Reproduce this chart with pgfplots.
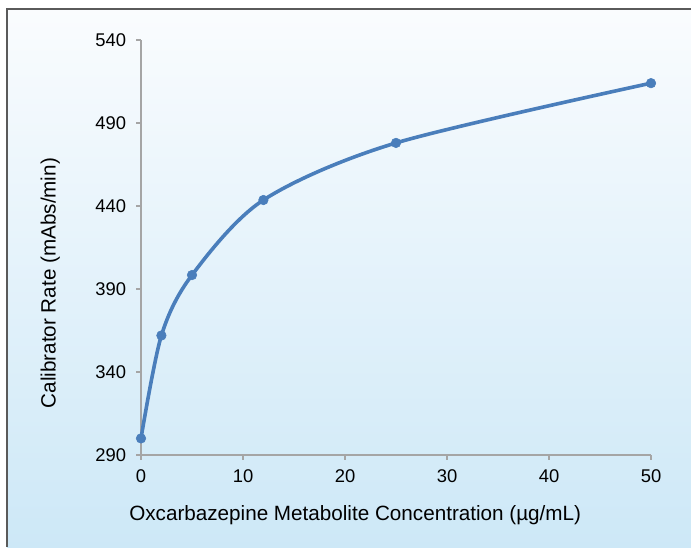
\documentclass[border=0pt]{standalone}
\usepackage{pgfplots}
\pgfplotsset{compat=1.18}
\usepackage{fontspec}
\setmainfont{Liberation Sans}
\definecolor{lineblue}{RGB}{74,126,187}
\definecolor{axgray}{RGB}{165,165,165}
\definecolor{bgtop}{RGB}{250,252,254}
\definecolor{bgbot}{RGB}{205,232,247}
\definecolor{framecol}{RGB}{90,90,90}
\begin{document}
\begin{tikzpicture}[x=0.75pt,y=0.75pt]
\path[use as bounding box, fill=white] (0,0) rectangle (691,547);
\shade[top color=bgtop, bottom color=bgbot] (7,0) rectangle (691,538);
\draw[framecol, line width=1.4pt] (7,0) -- (7,538) -- (691,538);
\begin{axis}[
  at={(105.75pt,69pt)}, anchor=south west,
  scale only axis, width=382.5pt, height=311.25pt,
  xmin=0, xmax=50, ymin=290, ymax=540,
  xtick={0,10,20,30,40,50}, ytick={290,340,390,440,490,540},
  axis x line*=bottom, axis y line*=left,
  axis line style={axgray, line width=1.1pt, -},
  tick align=outside, major tick length=3.5pt,
  every tick/.style={axgray, line width=0.9pt},
  tick label style={text=black},
  /pgf/number format/assume math mode=true,
  xticklabel={\fontsize{13.8}{16}\selectfont\pgfmathprintnumber[assume math mode=true]{\tick}},
  yticklabel={\fontsize{13.8}{16}\selectfont\pgfmathprintnumber[assume math mode=true]{\tick}},
  yticklabel style={inner sep=0pt, xshift=-7.5pt},
  xticklabel style={inner sep=0pt, yshift=-7.5pt},
  clip=false,
  xlabel={Oxcarbazepine Metabolite Concentration (µg/mL)},
  ylabel={Calibrator Rate (mAbs/min)},
  label style={font=\fontsize{15.5}{18}\selectfont},
  xlabel style={at={(axis description cs:0.42,-0.145)}, anchor=center},
  ylabel style={at={(axis description cs:-0.178,0.414)}, anchor=center, rotate=0},
]
\addplot[lineblue, line width=2.7pt, smooth, tension=0.5, mark=*, mark size=3.6pt, mark options={solid, fill=lineblue, draw=lineblue, line width=0.4pt}]
  coordinates {(0,300) (2,362) (5,398.4) (12,443.6) (25,478) (50,514)};
\end{axis}
\end{tikzpicture}
\end{document}
